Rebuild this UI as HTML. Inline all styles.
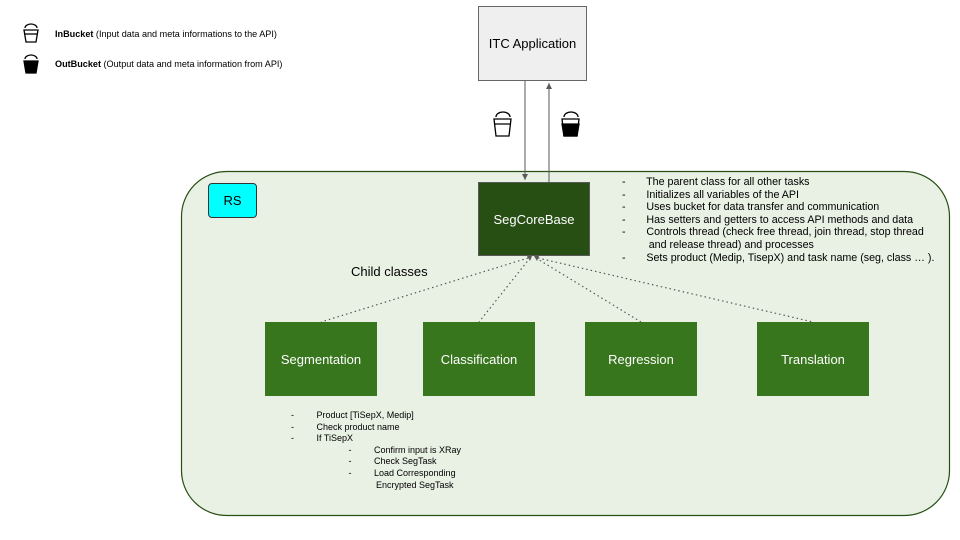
<!DOCTYPE html>
<html><head><style>
body{margin:0;width:960px;height:540px;background:#fff;position:relative;overflow:hidden;font-family:"Liberation Sans",Arial,sans-serif;}
.a{position:absolute;}
.box{position:absolute;display:flex;align-items:center;justify-content:center;box-sizing:border-box;}
.t{font-size:9.5px;color:#000;line-height:12px;white-space:pre;}
</style></head><body>
<svg class="a" style="left:0;top:0" width="960" height="540">
<defs><marker id="ar" markerWidth="8" markerHeight="8" refX="6" refY="3" orient="auto"><path d="M0,0 L6,3 L0,6 z" fill="#595959"/></marker></defs>
<rect x="181.5" y="171.5" width="768" height="344" rx="45" fill="#e9f0e4" stroke="#274e13" stroke-width="1.2"/>
<line x1="525" y1="80" x2="525" y2="180" stroke="#595959" stroke-width="1" marker-end="url(#ar)"/>
<line x1="549" y1="182" x2="549" y2="83" stroke="#595959" stroke-width="1" marker-end="url(#ar)"/>
<g stroke="#595959" stroke-width="1.2" stroke-dasharray="1.5,3" fill="none">
<line x1="528" y1="258" x2="321" y2="322"/>
<line x1="530" y1="258" x2="479" y2="322"/>
<line x1="536" y1="258" x2="641" y2="322"/>
<line x1="538" y1="258" x2="813" y2="322"/>
</g>
<path d="M527,256 l3,5 l2,-5z M534,256 l3,5 l2,-5z" fill="#595959"/>
<g stroke="#000" stroke-width="1.3" fill="none">
<path d="M25,28 a6,4 0 0 1 12,0"/><path d="M24,30 h14 l-2,12 h-10z"/><line x1="24" y1="34" x2="38" y2="34"/>
<path d="M496,117 a7,5 0 0 1 14,0"/><path d="M494,119 h17 l-2,17 h-13z"/><line x1="494" y1="124" x2="511" y2="124"/>
<path d="M25,59 a6,4 0 0 1 12,0"/><path d="M24,61 h14 l-2,12 h-10z" fill="#000"/>
<path d="M564,117 a7,5 0 0 1 14,0"/><path d="M562,119 h17 l-2,17 h-13z"/><path d="M562,124 h17 l-2,12 h-13z" fill="#000"/>
</g>
</svg>
<div class="a t" style="left:55px;top:28px;font-size:9.1px"><b>InBucket</b> (Input data and meta informations to the API)</div>
<div class="a t" style="left:55px;top:58px;font-size:9.1px"><b>OutBucket</b> (Output data and meta information from API)</div>
<div class="box" style="left:478px;top:6px;width:109px;height:75px;background:#efefef;border:1px solid #666;font-size:13px;color:#000">ITC Application</div>
<div class="box" style="left:478px;top:182px;width:112px;height:74px;background:#274e13;border:1.5px solid #595959;font-size:13px;color:#fff">SegCoreBase</div>
<div class="box" style="left:208px;top:183px;width:49px;height:35px;background:#00ffff;border:1px solid #333;border-radius:4px;font-size:13px">RS</div>
<div class="a" style="left:351px;top:264px;font-size:13px">Child classes</div>
<div class="box" style="left:265px;top:322px;width:112px;height:74px;background:#38761d;color:#fff;font-size:13px">Segmentation</div>
<div class="box" style="left:423px;top:322px;width:112px;height:74px;background:#38761d;color:#fff;font-size:13px">Classification</div>
<div class="box" style="left:585px;top:322px;width:112px;height:74px;background:#38761d;color:#fff;font-size:13px">Regression</div>
<div class="box" style="left:757px;top:322px;width:112px;height:74px;background:#38761d;color:#fff;font-size:13px">Translation</div>
<div class="a t" style="left:622px;top:176px;font-size:10.7px;line-height:12.6px">-       The parent class for all other tasks
-       Initializes all variables of the API
-       Uses bucket for data transfer and communication
-       Has setters and getters to access API methods and data
-       Controls thread (check free thread, join thread, stop thread
         and release thread) and processes
-       Sets product (Medip, TisepX) and task name (seg, class … ).</div>
<div class="a t" style="left:291px;top:410px;font-size:9px;line-height:11.6px">-         Product [TiSepX, Medip]
-         Check product name
-         If TiSepX
                       -         Confirm input is XRay
                       -         Check SegTask
                       -         Load Corresponding
                                  Encrypted SegTask</div>
</body></html>
